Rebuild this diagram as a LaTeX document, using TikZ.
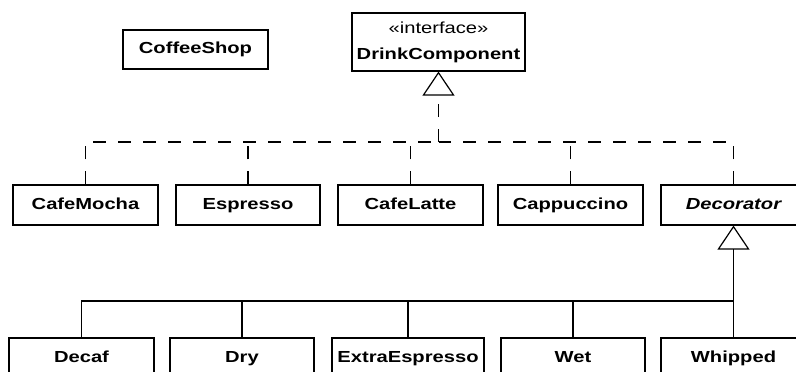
\documentclass[tikz,border=0pt]{standalone}
\usepackage{fontspec}
\setmainfont{Liberation Sans}[FakeStretch=1.26]
\usetikzlibrary{arrows.meta}
\begin{document}
\begin{tikzpicture}[x=1pt,y=-1pt,
  cls/.style={draw=black, line width=1.2pt, rectangle, inner sep=0pt,
    minimum height=40pt, text height=11.5pt, text depth=3.5pt,
    font=\fontsize{16}{19}\selectfont\bfseries},
  realize/.style={draw=black, line width=1.2pt, dash pattern=on 13pt off 12pt},
  inherit/.style={draw=black, line width=1.2pt},
  hollow/.style={-{Triangle[open, length=24pt, width=32pt, line width=1.2pt]}}]
  \clip (0,0) rectangle (796,372);
  \fill[white] (0,0) rectangle (796,372);

  % top level
  \node[cls, minimum width=145pt, minimum height=39pt] (shop) at (195.5,49.5) {CoffeeShop};
  \node[draw=black, line width=1.2pt, rectangle, inner sep=0pt,
        minimum width=173pt, minimum height=58pt, align=center,
        font=\fontsize{16}{26}\selectfont] (drink) at (438.5,42)
        {«interface»\\\bfseries DrinkComponent};

  % concrete drinks and the decorator base
  \node[cls, minimum width=145pt] (mocha) at (85.5,205) {CafeMocha};
  \node[cls, minimum width=144pt] (espresso) at (248,205) {Espresso};
  \node[cls, minimum width=145pt] (latte) at (410.5,205) {CafeLatte};
  \node[cls, minimum width=145pt] (capp) at (570.5,205) {Cappuccino};
  \node[cls, minimum width=145pt, font=\fontsize{16}{19}\selectfont\bfseries\itshape] (deco) at (733.5,205) {Decorator};

  % decorators
  \node[cls, minimum width=145pt] (decaf) at (81.5,358) {Decaf};
  \node[cls, minimum width=144pt] (dry) at (242,358) {Dry};
  \node[cls, minimum width=152pt] (extra) at (408,358) {ExtraEspresso};
  \node[cls, minimum width=144pt] (wet) at (573,358) {Wet};
  \node[cls, minimum width=145pt] (whip) at (733.5,358) {Whipped};

  % interface realization (dashed tree)
  \coordinate (rj) at (438.5,142);
  \draw[realize, hollow] (rj) -- (drink);
  \draw[realize] (mocha.north) |- (rj);
  \draw[realize] (deco.north) |- (rj);
  \draw[realize] (espresso.north) -- (espresso.north |- rj);
  \draw[realize] (latte.north) -- (latte.north |- rj);
  \draw[realize] (capp.north) -- (capp.north |- rj);

  % generalization (solid tree)
  \coordinate (gj) at (733.5,301);
  \draw[inherit, hollow] (whip.north) -- (deco);
  \draw[inherit] (decaf.north) |- (gj);
  \draw[inherit] (dry.north) -- (dry.north |- gj);
  \draw[inherit] (extra.north) -- (extra.north |- gj);
  \draw[inherit] (wet.north) -- (wet.north |- gj);
\end{tikzpicture}
\end{document}
